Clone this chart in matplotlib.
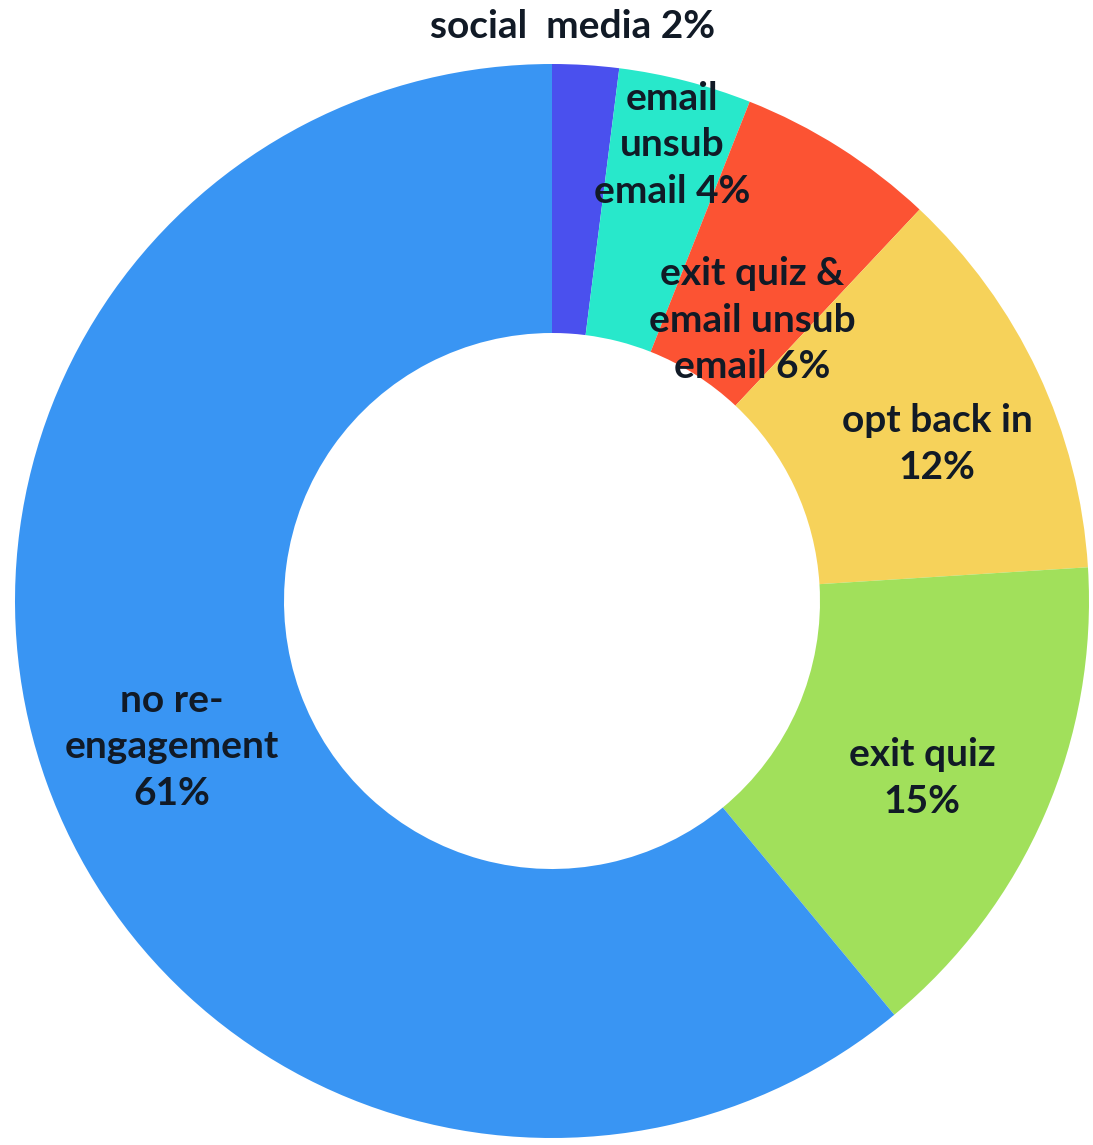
import matplotlib.pyplot as plt

# share of users by re-engagement channel
channels = ['social  media', 'email\nunsub\nemail', 'exit quiz &\nemail unsub\nemail',
            'opt back in\n', 'exit quiz\n', 'no re-\nengagement\n']
shares = [2, 4, 6, 12, 15, 61]
colors = ['#4a50ee', '#28e8cb', '#fc5333', '#f6d25a', '#a1e05b', '#3995f3']

# label anchor points in pixel space (x, y from top)
label_pos = [(573, 27), (672, 145), (752, 320), (937, 444), (922, 778), (172, 747)]

W, H = 1093, 1145
fig = plt.figure(figsize=(W / 100, H / 100), dpi=100)
ax = fig.add_axes([0, 0, 1, 1])

cx, cy, r_out, r_in = 552, H - 601, 537, 268
ax.pie(shares, colors=colors, startangle=90, counterclock=False,
       center=(cx, cy), radius=r_out, frame=True,
       wedgeprops=dict(width=r_out - r_in, linewidth=0))
ax.set_xlim(0, W)
ax.set_ylim(0, H)
ax.set_aspect('equal')
ax.axis('off')

for name, val, (px, py) in zip(channels, shares, label_pos):
    if name.endswith('\n'):
        txt = f'{name}{val}%'
    else:
        txt = f'{name} {val}%'
    ax.text(px, H - py, txt, ha='center', va='center', fontsize=28,
            fontfamily='Lato', fontweight='bold', color='#111a26',
            linespacing=1.38, multialignment='center')

plt.savefig('out.png', dpi=100)
